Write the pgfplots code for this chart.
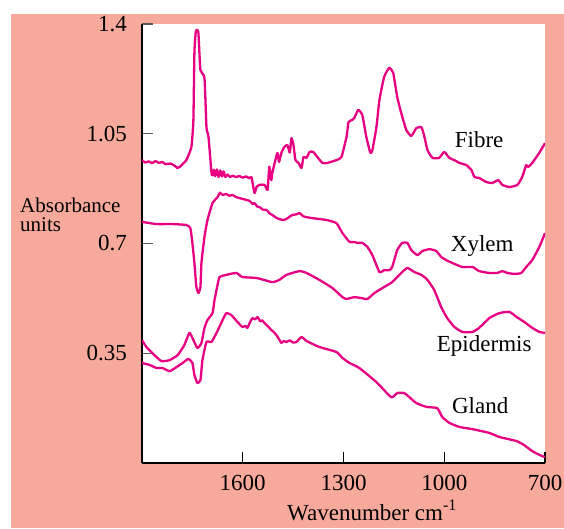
\documentclass[border=0pt]{standalone}
\usepackage{fontspec}
\setmainfont{Liberation Serif}
\usepackage{pgfplots}
\pgfplotsset{compat=1.18}
\definecolor{salmon}{RGB}{247,170,156}
\definecolor{spec}{RGB}{232,0,130}
\newcommand{\lbl}{\fontsize{23}{26}\selectfont}
\pgfplotsset{spectrum/.style={color=spec, line width=2.3pt, line join=round, mark=none, smooth, tension=0.3}}
\begin{document}
\begin{tikzpicture}[x=1pt,y=1pt]
\useasboundingbox (0,0) rectangle (564,528);
\fill[white] (0,0) rectangle (564,528);
\fill[salmon] (11,0) rectangle (564,514);
\begin{axis}[at={(142pt,65pt)}, anchor=south west, scale only axis,
  width=403pt, height=439pt,
  xmin=700, xmax=1900, ymin=0, ymax=1.4, x dir=reverse,
  axis x line*=bottom, axis y line*=left,
  axis background/.style={fill=white},
  axis line style={line width=1.3pt, black},
  xtick={1600,1300,1000,700}, xticklabels={1600,1300,1000,700},
  ytick={0.35,0.7,1.05,1.4}, yticklabels={0.35,0.7,1.05,1.4},
  tick align=inside, major tick length=11pt,
  xtick style={line width=1.2pt, black},
  ytick style={line width=1.2pt, black!65},
  xticklabel style={font=\lbl, anchor=base, yshift=-27pt, inner sep=0pt},
  yticklabel style={font=\lbl, anchor=east, xshift=-15pt, inner sep=0pt},
]
% Fibre
\addplot[spectrum] coordinates {(1900,0.966)(1890,0.958)(1880,0.962)(1870,0.956)(1860,0.963)(1850,0.957)(1840,0.960)(1830,0.953)(1815,0.955)(1800,0.946)(1795,0.941)(1788,0.944)(1768,0.966)(1753,1.008)(1747,1.094)(1744,1.307)(1740,1.375)(1736,1.381)(1732,1.371)(1726,1.253)(1714,1.228)(1708,1.071)(1702,1.040)(1693,0.925)(1690,0.918)(1686,0.935)(1682,0.915)(1677,0.936)(1672,0.912)(1667,0.933)(1662,0.914)(1657,0.930)(1652,0.912)(1645,0.920)(1638,0.912)(1630,0.916)(1620,0.912)(1610,0.915)(1600,0.910)(1590,0.914)(1580,0.908)(1574,0.912)(1565,0.861)(1559,0.880)(1550,0.887)(1535,0.887)(1526,0.871)(1521,0.945)(1515,0.902)(1512,0.925)(1497,0.989)(1492,0.960)(1485,0.989)(1476,1.008)(1467,1.014)(1460,0.990)(1455,1.036)(1449,1.014)(1443,0.966)(1434,0.957)(1425,0.941)(1419,0.976)(1410,0.973)(1401,0.992)(1390,0.992)(1378,0.976)(1363,0.957)(1348,0.957)(1321,0.966)(1306,0.976)(1291,1.040)(1285,1.087)(1274,1.094)(1268,1.100)(1256,1.126)(1244,1.110)(1232,1.040)(1220,0.989)(1214,0.998)(1202,1.071)(1193,1.158)(1179,1.231)(1164,1.260)(1152,1.244)(1140,1.167)(1128,1.116)(1113,1.062)(1098,1.043)(1083,1.068)(1068,1.071)(1059,1.040)(1050,0.998)(1035,0.973)(1015,0.973)(1000,0.992)(985,0.973)(970,0.966)(955,0.957)(934,0.950)(919,0.934)(910,0.912)(896,0.909)(875,0.896)(857,0.893)(839,0.902)(827,0.887)(806,0.880)(782,0.887)(768,0.912)(756,0.950)(750,0.944)(738,0.957)(717,0.989)(700,1.020)};
% Xylem
\addplot[spectrum] coordinates {(1900,0.769)(1857,0.762)(1809,0.762)(1768,0.759)(1756,0.749)(1750,0.702)(1744,0.638)(1738,0.561)(1732,0.542)(1726,0.561)(1723,0.638)(1714,0.721)(1705,0.775)(1690,0.829)(1675,0.848)(1668,0.862)(1660,0.855)(1649,0.858)(1640,0.852)(1631,0.855)(1620,0.848)(1610,0.845)(1600,0.842)(1589,0.839)(1580,0.836)(1570,0.826)(1565,0.829)(1557,0.818)(1550,0.816)(1540,0.808)(1529,0.807)(1520,0.796)(1512,0.791)(1500,0.782)(1491,0.778)(1480,0.775)(1470,0.778)(1460,0.786)(1452,0.791)(1440,0.793)(1431,0.797)(1420,0.787)(1410,0.784)(1393,0.781)(1351,0.775)(1321,0.765)(1303,0.733)(1282,0.705)(1268,0.705)(1259,0.702)(1244,0.702)(1229,0.689)(1214,0.663)(1193,0.609)(1179,0.615)(1164,0.615)(1155,0.625)(1140,0.679)(1125,0.702)(1110,0.702)(1098,0.679)(1080,0.663)(1065,0.676)(1044,0.682)(1024,0.676)(1009,0.657)(994,0.647)(976,0.638)(946,0.625)(916,0.625)(896,0.612)(866,0.606)(842,0.606)(827,0.612)(812,0.606)(791,0.603)(771,0.606)(756,0.625)(738,0.647)(717,0.689)(700,0.733)};
% Epidermis
\addplot[spectrum] coordinates {(1900,0.392)(1887,0.370)(1863,0.344)(1842,0.325)(1818,0.328)(1794,0.344)(1774,0.376)(1759,0.415)(1750,0.399)(1735,0.367)(1723,0.383)(1714,0.431)(1705,0.456)(1690,0.478)(1684,0.520)(1675,0.568)(1669,0.593)(1649,0.600)(1619,0.606)(1601,0.593)(1559,0.590)(1512,0.577)(1491,0.584)(1470,0.600)(1431,0.612)(1410,0.606)(1372,0.584)(1333,0.558)(1303,0.529)(1291,0.523)(1268,0.529)(1247,0.526)(1229,0.523)(1208,0.542)(1184,0.558)(1155,0.577)(1128,0.606)(1110,0.622)(1089,0.609)(1068,0.600)(1050,0.584)(1030,0.552)(1009,0.497)(991,0.462)(970,0.434)(946,0.418)(916,0.418)(896,0.431)(866,0.462)(836,0.478)(806,0.482)(785,0.466)(762,0.450)(738,0.431)(717,0.418)(700,0.415)};
% Gland
\addplot[spectrum] coordinates {(1900,0.319)(1878,0.313)(1857,0.303)(1839,0.303)(1818,0.293)(1797,0.306)(1779,0.319)(1762,0.332)(1750,0.319)(1744,0.281)(1735,0.255)(1726,0.265)(1720,0.328)(1708,0.386)(1693,0.386)(1678,0.415)(1660,0.456)(1649,0.478)(1634,0.472)(1616,0.450)(1601,0.434)(1592,0.437)(1586,0.431)(1578,0.450)(1571,0.462)(1563,0.458)(1556,0.466)(1548,0.452)(1542,0.455)(1535,0.446)(1525,0.436)(1515,0.424)(1508,0.418)(1500,0.408)(1492,0.395)(1485,0.383)(1478,0.389)(1470,0.386)(1460,0.391)(1450,0.384)(1440,0.386)(1425,0.402)(1410,0.389)(1372,0.370)(1321,0.354)(1303,0.335)(1282,0.319)(1253,0.303)(1202,0.258)(1158,0.210)(1140,0.223)(1119,0.223)(1104,0.210)(1083,0.191)(1053,0.179)(1021,0.175)(1006,0.147)(985,0.128)(955,0.115)(916,0.108)(866,0.096)(836,0.083)(785,0.070)(762,0.057)(738,0.038)(717,0.026)(700,0.019)};
\node[font=\lbl, anchor=base] at (axis cs:896,1.005) {Fibre};
\node[font=\lbl, anchor=base] at (axis cs:887,0.673) {Xylem};
\node[font=\lbl, anchor=base] at (axis cs:881,0.354) {Epidermis};
\node[font=\lbl, anchor=base] at (axis cs:893,0.159) {Gland};
\end{axis}
\node[font=\fontsize{21}{22}\selectfont, anchor=base west, inner sep=0pt] at (20,315) {Absorbance};
\node[font=\fontsize{21}{22}\selectfont, anchor=base west, inner sep=0pt] at (20,296) {units};
\node[font=\lbl, anchor=base west, inner sep=0pt] at (287,8) {Wavenumber cm\textsuperscript{-1}};
\end{tikzpicture}
\end{document}
